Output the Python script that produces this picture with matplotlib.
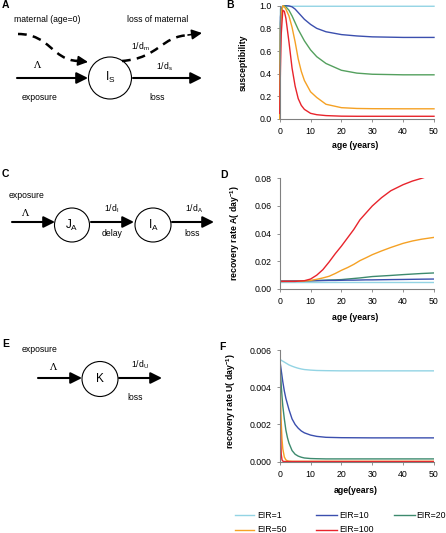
import matplotlib
matplotlib.use('Agg')
import matplotlib.pyplot as plt
from matplotlib.patches import Ellipse, PathPatch
from matplotlib.path import Path
from matplotlib.lines import Line2D

plt.rcParams['font.family'] = ['Liberation Sans', 'DejaVu Sans']
plt.rcParams['mathtext.fontset'] = 'custom'
plt.rcParams['mathtext.rm'] = 'Liberation Sans'
plt.rcParams['mathtext.it'] = 'Liberation Sans:italic'
plt.rcParams['mathtext.bf'] = 'Liberation Sans:bold'

# ---------------- data ----------------
series_labels = ['EIR=1', 'EIR=10', 'EIR=20', 'EIR=50', 'EIR=100']
series_colors = ['#93d4e4', '#3b4fae', '#3d8a6e', '#f5a124', '#e8242c']
b_colors = ['#93d4e4', '#3b4fae', '#54a05e', '#f5a124', '#e8242c']

# Panel B: susceptibility vs age
age_b = [0, 0.25, 0.5, 1, 1.5, 2, 3, 4, 5, 6, 7, 8, 10, 12, 15, 20, 25, 30, 40, 50]
sus_eir1 = [0, 0.97, 0.99, 0.995, 0.995, 0.995, 0.995, 0.995, 0.995, 0.995, 0.995, 0.995,
            0.995, 0.995, 0.995, 0.995, 0.995, 0.995, 0.995, 0.995]
sus_eir10 = [0, 0.90, 0.97, 0.995, 1.0, 1.0, 0.998, 0.99, 0.97, 0.94, 0.91, 0.88,
             0.835, 0.80, 0.77, 0.745, 0.733, 0.725, 0.72, 0.72]
sus_eir20 = [0, 0.85, 0.95, 0.99, 1.0, 0.99, 0.96, 0.91, 0.85, 0.79, 0.74, 0.69,
             0.61, 0.55, 0.49, 0.43, 0.405, 0.395, 0.39, 0.39]
sus_eir50 = [0, 0.80, 0.93, 1.0, 0.99, 0.97, 0.91, 0.81, 0.68, 0.53, 0.42, 0.34,
             0.24, 0.19, 0.13, 0.10, 0.093, 0.091, 0.09, 0.09]
sus_eir100 = [0.05, 0.45, 0.75, 0.96, 0.95, 0.89, 0.68, 0.45, 0.29, 0.18, 0.12, 0.085,
              0.05, 0.038, 0.03, 0.025, 0.024, 0.024, 0.024, 0.024]
sus_series = [sus_eir1, sus_eir10, sus_eir20, sus_eir50, sus_eir100]

# Panel D: recovery rate A vs age
age_d = [0, 5, 8, 10, 12, 14, 16, 18, 20, 22, 24, 26, 28, 30, 33, 36, 40, 43, 46, 50]
ra_eir1 = [0.0049, 0.0049, 0.0049, 0.0049, 0.0049, 0.0049, 0.0049, 0.0049, 0.0049, 0.0049,
           0.0049, 0.0049, 0.0049, 0.0049, 0.0049, 0.0049, 0.0049, 0.0049, 0.0049, 0.0049]
ra_eir10 = [0.0058, 0.0059, 0.0060, 0.0060, 0.0061, 0.0061, 0.0062, 0.0062, 0.0063, 0.0064,
            0.0064, 0.0065, 0.0066, 0.0066, 0.0067, 0.0068, 0.0069, 0.0070, 0.0071, 0.0072]
ra_eir20 = [0.0055, 0.0056, 0.0058, 0.0060, 0.0061, 0.0063, 0.0065, 0.0066, 0.0068, 0.0072,
            0.0076, 0.0080, 0.0085, 0.0090, 0.0094, 0.0098, 0.0104, 0.0108, 0.0112, 0.0116]
ra_eir50 = [0.0055, 0.0055, 0.0058, 0.0062, 0.0070, 0.0080, 0.0092, 0.0112, 0.0135, 0.0155,
            0.0178, 0.0205, 0.0226, 0.0248, 0.0275, 0.0300, 0.0330, 0.0347, 0.0360, 0.0373]
ra_eir100 = [0.0055, 0.0055, 0.0060, 0.0072, 0.0100, 0.0140, 0.0195, 0.0255, 0.0310, 0.0370,
             0.0430, 0.0500, 0.0550, 0.0600, 0.0660, 0.0710, 0.0754, 0.0780, 0.0800, 0.0830]
ra_series = [ra_eir1, ra_eir10, ra_eir20, ra_eir50, ra_eir100]

# Panel F: recovery rate U vs age
age_f = [0, 0.25, 0.5, 0.75, 1, 1.5, 2, 2.5, 3, 4, 5, 6, 7, 8, 10, 12, 15, 20, 30, 40, 50]
ru_eir1 = [0.0055, 0.00548, 0.00545, 0.00542, 0.0054, 0.00535, 0.0053, 0.00525, 0.0052,
           0.00513, 0.00507, 0.00502, 0.00498, 0.00495, 0.00492, 0.0049, 0.00489, 0.00488,
           0.00488, 0.00488, 0.00488]
ru_eir10 = [0.0055, 0.0052, 0.0049, 0.0046, 0.0043, 0.0038, 0.0034, 0.0031, 0.0028, 0.0023,
            0.0020, 0.0018, 0.00165, 0.00155, 0.00143, 0.00136, 0.00131, 0.00129, 0.00128,
            0.00128, 0.00128]
ru_eir20 = [0.0055, 0.0048, 0.0041, 0.0035, 0.0030, 0.0023, 0.0017, 0.0013, 0.0010, 0.0006,
            0.0004, 0.0003, 0.00024, 0.0002, 0.00017, 0.00016, 0.00015, 0.00015, 0.00015,
            0.00015, 0.00015]
ru_eir50 = [0.0055, 0.0035, 0.0021, 0.0012, 0.0007, 0.00025, 0.0001, 0.00005, 0.00003,
            0.00002, 0.00002, 0.00002, 0.00002, 0.00002, 0.00002, 0.00002, 0.00002, 0.00002,
            0.00002, 0.00002, 0.00002]
ru_eir100 = [0.0055, 0.0017, 0.0004, 0.0001, 0.00003, 0.00001, 0.00001, 0.00001, 0.00001,
             0.00001, 0.00001, 0.00001, 0.00001, 0.00001, 0.00001, 0.00001, 0.00001, 0.00001,
             0.00001, 0.00001, 0.00001]
ru_series = [ru_eir1, ru_eir10, ru_eir20, ru_eir50, ru_eir100]

x_ticks = [0, 10, 20, 30, 40, 50]
b_yticks = [0.0, 0.2, 0.4, 0.6, 0.8, 1.0]
d_yticks = [0.00, 0.02, 0.04, 0.06, 0.08]
f_yticks = [0.000, 0.002, 0.004, 0.006]

# ---------------- figure ----------------
W, H = 446, 533
fig = plt.figure(figsize=(W / 100, H / 100), dpi=100)

# overlay in pixel coordinates for diagrams / labels
ov = fig.add_axes([0, 0, 1, 1])
ov.set_xlim(0, W)
ov.set_ylim(H, 0)
ov.axis('off')


def px_axes(x0, x1, ytop, ybot):
    return fig.add_axes([x0 / W, 1 - ybot / H, (x1 - x0) / W, (ybot - ytop) / H])


grey = '#808080'
FS = 6.3


def style(ax, yticks, fmt):
    for s in ['top', 'right']:
        ax.spines[s].set_visible(False)
    for s in ['left', 'bottom']:
        ax.spines[s].set_color(grey)
        ax.spines[s].set_linewidth(0.8)
    ax.set_xlim(0, 50)
    ax.set_xticks(x_ticks)
    ax.set_yticks(yticks)
    ax.set_yticklabels([fmt.format(v) for v in yticks])
    ax.tick_params(axis='both', labelsize=FS, length=2.5, width=0.6, color=grey,
                   direction='out', pad=3.2)
    ax.patch.set_alpha(0)


# Panel B
axB = px_axes(279.7, 434, 5.7, 119)
for ys, c in zip(sus_series, b_colors):
    axB.plot(age_b, ys, color=c, lw=1.0, clip_on=False)
axB.set_ylim(0, 1.0)
style(axB, b_yticks, '{:.1f}')
axB.set_ylabel('susceptibility', fontsize=FS, fontweight='bold')
axB.yaxis.set_label_coords(-0.205, 0.5)
axB.set_xlabel('age (years)', fontsize=FS, fontweight='bold')
axB.xaxis.set_label_coords(0.49, -0.19)

# Panel D
axD = px_axes(279.7, 434, 178.3, 289)
order = [0, 2, 1, 3, 4]
for i in order:
    axD.plot(age_d, ra_series[i], color=series_colors[i], lw=1.0)
axD.set_ylim(0, 0.08)
style(axD, d_yticks, '{:.2f}')
axD.set_ylabel(r'recovery rate A( day$\mathregular{^{-1}}$)', fontsize=FS, fontweight='bold')
axD.yaxis.set_label_coords(-0.246, 0.506)
axD.set_xlabel('age (years)', fontsize=FS, fontweight='bold')
axD.xaxis.set_label_coords(0.49, -0.215)

# Panel F
axF = px_axes(279.7, 434, 350, 461.7)
for ys, c in zip(ru_series, series_colors):
    axF.plot(age_f, ys, color=c, lw=1.0)
axF.set_ylim(0, 0.006)
style(axF, f_yticks, '{:.3f}')
axF.set_ylabel(r'recovery rate U( day$\mathregular{^{-1}}$)', fontsize=FS, fontweight='bold')
axF.yaxis.set_label_coords(-0.268, 0.54)
axF.set_xlabel('age(years)', fontsize=FS, fontweight='bold')
axF.xaxis.set_label_coords(0.49, -0.22)

# ---------------- legend (manual) ----------------
leg_cols = [(235, 254, 257), (316, 337, 339), (394, 415, 416)]
leg_rows = [515, 530]
for k, (lab, c) in enumerate(zip(series_labels, series_colors)):
    r, col = divmod(k, 3)
    x0, x1, xt = leg_cols[col]
    y = leg_rows[r]
    ov.add_line(Line2D([x0, x1], [y, y], color=c, lw=1.0))
    ov.text(xt, y, lab, fontsize=FS, ha='left', va='center')

# ---------------- diagrams ----------------
TXT = 6.2
BIG = 8.5


def arrow(x0, y0, x1, y1, ms=16, lw=1.5):
    ov.annotate('', xy=(x1, y1), xytext=(x0, y0),
                arrowprops=dict(arrowstyle='-|>', mutation_scale=ms, lw=lw, color='k',
                                shrinkA=0, shrinkB=0))


def circle(cx, cy, w, h):
    ov.add_patch(Ellipse((cx, cy), w, h, fill=False, ec='k', lw=0.8))


def dashed_curve(p0, p1, p2, p3):
    path = Path([p0, p1, p2, p3], [Path.MOVETO, Path.CURVE4, Path.CURVE4, Path.CURVE4])
    ov.add_patch(PathPatch(path, fill=False, ec='k', lw=1.8, ls=(0, (3.5, 2.5))))


def label(x, y, s, size=TXT, **kw):
    ov.text(x, y, s, fontsize=size, ha='center', va='center', **kw)


def panel_letter(x, y, s):
    ov.text(x, y, s, fontsize=7.5, fontweight='bold', ha='left', va='center')


# A
panel_letter(2, 5, 'A')
label(47, 20, 'maternal (age=0)')
label(158, 20, 'loss of maternal')
dashed_curve((18, 34), (50, 34), (52, 60), (78, 61))
arrow(76, 60.6, 88, 62, ms=15, lw=1.2)
dashed_curve((122, 61), (160, 58), (160, 36), (190, 35))
arrow(188, 35, 202, 33, ms=15, lw=1.2)
arrow(17, 78, 88, 78, ms=17)
circle(110, 78, 43, 42)
label(110, 77, r'$\mathregular{I_S}$', size=BIG)
arrow(133, 78, 202, 78, ms=17)
label(37, 65, 'Λ', size=7, family='DejaVu Serif')
label(140, 47, r'$\mathregular{1/d_m}$')
label(164, 67, r'$\mathregular{1/d_s}$')
label(40, 98, 'exposure')
label(157, 98, 'loss')

# C
panel_letter(2, 174, 'C')
label(27, 195, 'exposure')
label(25, 213, 'Λ', size=7, family='DejaVu Serif')
arrow(12, 222, 55, 222, ms=17)
circle(72, 225, 35, 34)
label(72, 225, r'$\mathregular{J_A}$', size=BIG)
arrow(91, 222, 134, 222, ms=17)
label(112, 209, r'$\mathregular{1/d_I}$')
label(112, 233, 'delay')
circle(153, 225, 36, 34)
label(153, 225, r'$\mathregular{I_A}$', size=BIG)
arrow(172, 222, 214, 222, ms=17)
label(194, 209, r'$\mathregular{1/d_A}$')
label(192, 233, 'loss')

# E
panel_letter(2, 344, 'E')
label(40, 349, 'exposure')
label(53, 367, 'Λ', size=7, family='DejaVu Serif')
arrow(38, 378, 82, 378, ms=17)
circle(100, 379, 36, 35)
label(100, 379, 'K', size=BIG)
arrow(119, 378, 162, 378, ms=17)
label(140, 365, r'$\mathregular{1/d_U}$')
label(135, 398, 'loss')

# right panel letters
panel_letter(226, 5, 'B')
panel_letter(220, 175, 'D')
panel_letter(219, 347, 'F')

fig.savefig('out.png', dpi=100)
